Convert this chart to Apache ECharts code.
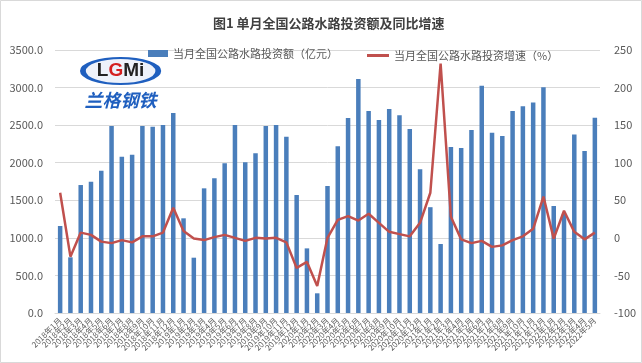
<!DOCTYPE html>
<html><head><meta charset="utf-8">
<script src="https://cdn.jsdelivr.net/npm/echarts@6/dist/echarts.min.js"></script>
<style>html,body{margin:0;padding:0;background:#fff}#c{width:642px;height:363px}</style>
</head><body><div id="c"></div>
<script>
var categories = ['2018年1月','2018年2月','2018年3月','2018年4月','2018年5月','2018年6月','2018年7月','2018年8月','2018年9月','2018年10月','2018年11月','2018年12月',
'2019年1月','2019年2月','2019年3月','2019年4月','2019年5月','2019年6月','2019年7月','2019年8月','2019年9月','2019年10月','2019年11月','2019年12月',
'2020年1月','2020年2月','2020年3月','2020年4月','2020年5月','2020年6月','2020年7月','2020年8月','2020年9月','2020年10月','2020年11月','2020年12月',
'2021年1月','2021年2月','2021年3月','2021年4月','2021年5月','2021年6月','2021年7月','2021年8月','2021年9月','2021年10月','2021年11月','2021年12月',
'2022年1月','2022年2月','2022年3月','2022年4月','2022年5月'];
var investment = [1158,741,1703,1748,1892,2489,2080,2107,2489,2480,2502,2662,
1260,736,1659,1792,1992,2502,2005,2125,2489,2502,2346,1570,
860,262,1690,2220,2595,3114,2688,2568,2715,2631,2449,1912,
1408,918,2209,2196,2435,3025,2400,2355,2688,2751,2800,3004,
1424,1320,2374,2157,2600];
var growth = [60,-25,7,4,-5,-7,-3,-6,2,2,7,40,
9,-1,-3,1,4,0,-4,0,-1,0,-6,-40,
-32,-64,0,24,29,23,32,20,8,5,2,20,
60,232,28,-2,-7,-4,-12,-10,-3,2,12,55,
-1,36,8,-2,7];
var leftTicks = {min:0, max:3500, interval:500};
var rightTicks = {min:-100, max:250, interval:50};
var titleText = '图1 单月全国公路水路投资额及同比增速';
var barName = '当月全国公路水路投资额（亿元）';
var lineName = '当月全国公路水路投资增速（%）';

var chart = echarts.init(document.getElementById('c'));
var font = '"Microsoft YaHei","Noto Sans CJK SC",sans-serif';
chart.setOption({
  animation:false,
  backgroundColor:'#fff',
  textStyle:{fontFamily:font},
  title:{text:titleText,left:208,top:12,textStyle:{fontSize:13,fontWeight:'bold',color:'#404040',fontFamily:font}},
  legend:[
    {data:[{name:barName,icon:'rect'}],left:143,top:43,itemWidth:20,itemHeight:7,itemGap:0,
     textStyle:{fontSize:11,color:'#595959',fontFamily:font}},
    {data:[{name:lineName,icon:'rect'}],left:362,top:45,itemWidth:22,itemHeight:3,
     textStyle:{fontSize:11,color:'#595959',fontFamily:font}}
  ],
  grid:{left:55,right:42,top:50,bottom:50,containLabel:false},
  xAxis:{type:'category',data:categories,
    axisLine:{lineStyle:{color:'#d9d9d9'}},axisTick:{show:false},
    axisLabel:{interval:0,rotate:45,fontSize:8,color:'#595959',margin:6,fontFamily:font}},
  yAxis:[
    {type:'value',min:leftTicks.min,max:leftTicks.max,interval:leftTicks.interval,
     axisLine:{show:false},axisTick:{show:false},
     splitLine:{lineStyle:{color:'#d9d9d9',width:1}},
     axisLabel:{fontSize:11,color:'#595959',margin:12,formatter:function(v){return v.toFixed(1);},fontFamily:font}},
    {type:'value',min:rightTicks.min,max:rightTicks.max,interval:rightTicks.interval,
     axisLine:{show:false},axisTick:{show:false},splitLine:{show:false},
     axisLabel:{fontSize:11,color:'#595959',margin:14,fontFamily:font}}
  ],
  series:[
    {name:barName,type:'bar',data:investment,barWidth:4.5,itemStyle:{color:'#4a7ebb'},yAxisIndex:0},
    {name:lineName,type:'line',data:growth,yAxisIndex:1,symbol:'none',showSymbol:false,smooth:false,
     lineStyle:{color:'#c0504d',width:2.5},itemStyle:{color:'#c0504d'}}
  ],
  graphic:[
    {type:'rect',shape:{x:0.5,y:0.5,width:641,height:362},style:{fill:null,stroke:'#d9d9d9',lineWidth:1},silent:true},
    {type:'group',left:80,top:57,children:[
      {type:'circle',shape:{cx:0,cy:0,r:13},x:40,y:14,scaleX:2.9,scaleY:1,style:{fill:'#eef2fa',stroke:'#1f5fbf',lineWidth:2}},
      {type:'text',x:40,y:14,style:{text:'{a|L}{b|G}{a|Mi}',rich:{a:{fontSize:19,fontWeight:'bold',fill:'#222',fontFamily:'Arial, Liberation Sans'},b:{fontSize:19,fontWeight:'bold',fill:'#d42020',fontFamily:'Arial, Liberation Sans'}},align:'center',verticalAlign:'middle'}},
      {type:'text',x:40,y:43,style:{text:'兰格钢铁',fontSize:18,fontWeight:'bold',fontStyle:'italic',fill:'#1f5fbf',align:'center',verticalAlign:'middle',fontFamily:font}}
    ]}
  ]
});
</script></body></html>
